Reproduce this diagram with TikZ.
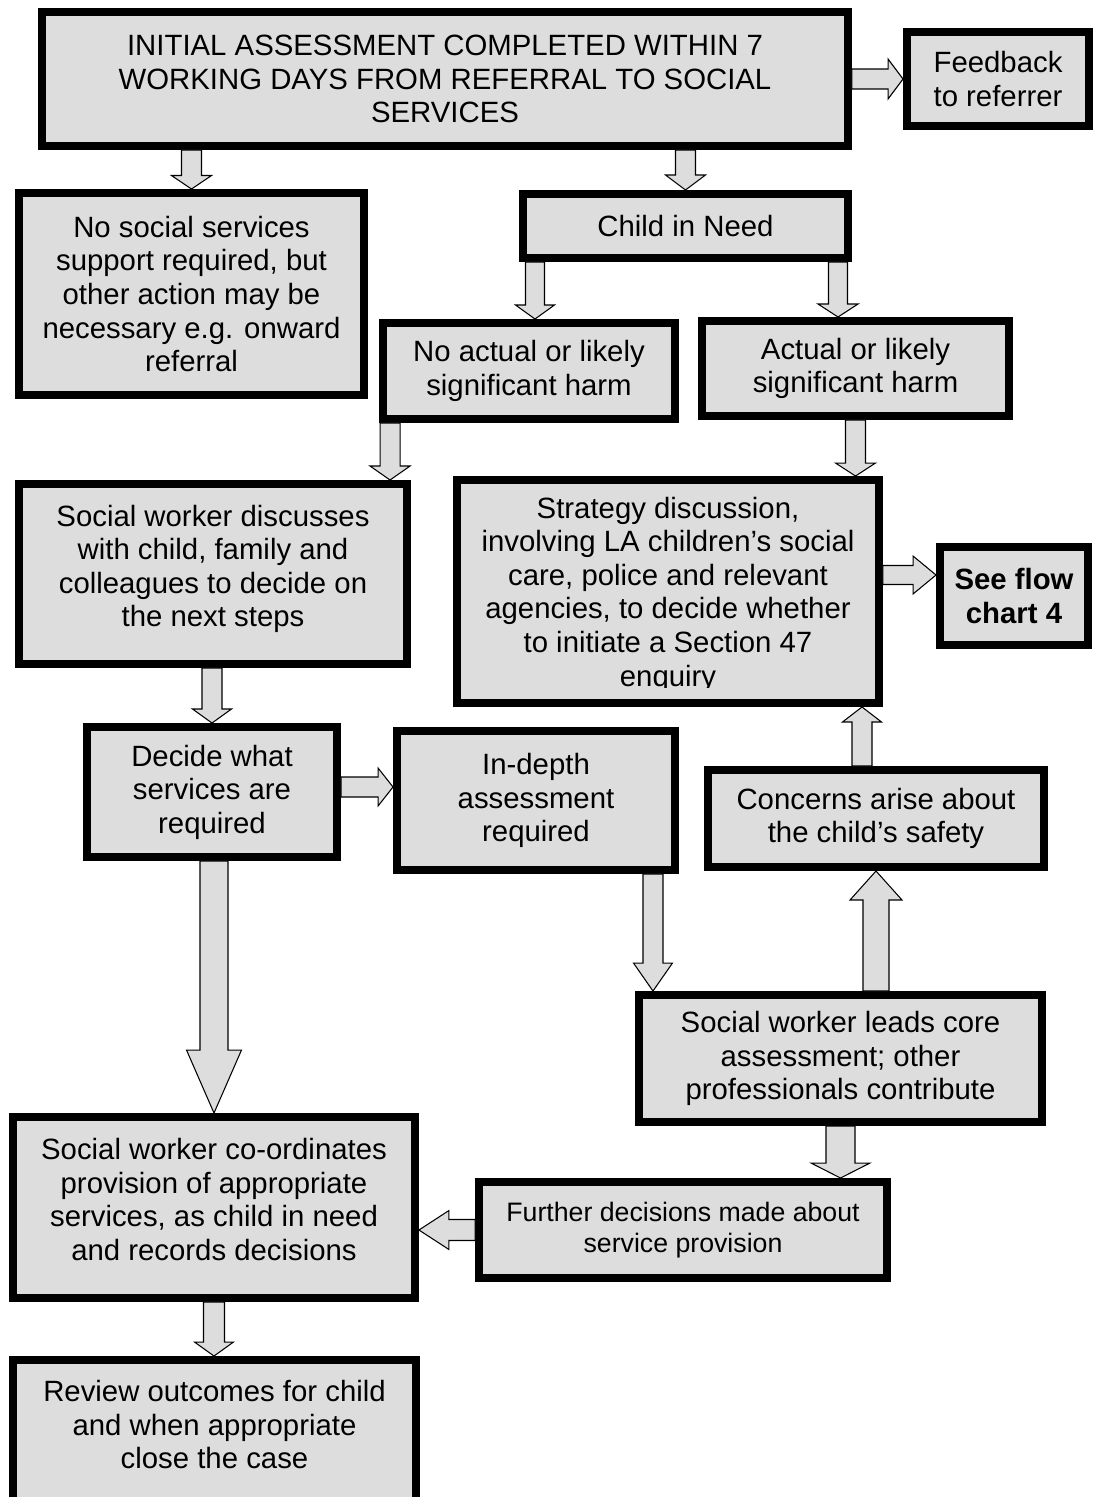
\documentclass[tikz,border=0pt]{standalone}
\usepackage{fontspec}
\setmainfont{Liberation Sans}
\usetikzlibrary{calc}
\definecolor{boxgray}{HTML}{DDDDDD}
\newcommand\blockarrow[5]{% start, tip, shaft half width, head half width, head length
	\coordinate (as) at (#1);
	\coordinate (at) at (#2);
	\coordinate (hb) at ($(at)!#5!(as)$);
	\draw[arrowbody] ($(as)!#3!90:(at)$) -- ($(hb)!#3!90:(at)$) -- ($(hb)!#4!90:(at)$) -- (at)
		-- ($(hb)!#4!-90:(at)$) -- ($(hb)!#3!-90:(at)$) -- ($(as)!#3!-90:(at)$) -- cycle;}

\begin{document}
\begin{tikzpicture}[x=0.02cm, y=-0.02cm,
	flowbox/.style={draw=black, line width=0.16cm, fill=boxgray, align=center, inner sep=0pt,
		font=\fontsize{16.7}{19.1}\selectfont},
	arrowbody/.style={draw=black, line width=0.6pt, fill=boxgray, line join=miter}]
		%%%%% START %%%%%
		\useasboundingbox (0, 0) rectangle (1093, 1497);

		\node[flowbox, minimum width=16.12cm, minimum height=2.68cm] (init) at (445, 79)
			{INITIAL ASSESSMENT COMPLETED WITHIN 7\\WORKING DAYS FROM REFERRAL TO SOCIAL\\SERVICES};
		\node[flowbox, minimum width=3.64cm, minimum height=1.88cm] (feed) at (998, 79)
			{Feedback\\to referrer};

		\node[flowbox, minimum width=6.90cm, minimum height=4.04cm] (nosup) at (191.5, 294)
			{No social services\\support required, but\\other action may be\\necessary e.g. onward\\referral};
		\node[flowbox, minimum width=6.50cm, minimum height=1.28cm] (cin) at (685.5, 226)
			{Child in Need};

		\node[flowbox, minimum width=5.84cm, minimum height=1.92cm] (noharm) at (529, 371)
			{No actual or likely\\significant harm};
		\node[flowbox, minimum width=6.14cm, minimum height=1.90cm] (harm) at (855.5, 368.5)
			{Actual or likely\\significant harm};

		\node[flowbox, minimum width=7.76cm, minimum height=3.60cm, text depth=0.32cm] (discuss) at (213, 574)
			{Social worker discusses\\with child, family and\\colleagues to decide on\\the next steps};
		\node[flowbox, minimum width=8.44cm, minimum height=4.46cm, text depth=-0.22cm] (strat) at (668, 591.5)
			{Strategy discussion,\\involving LA children’s social\\care, police and relevant\\agencies, to decide whether\\to initiate a Section 47\\enquiry};
		% the last line runs into the frame
		\fill[boxgray] ([shift={(0.16cm,0.16cm)}]strat.south west) rectangle ([shift={(-0.16cm,0.38cm)}]strat.south east);
		\node[flowbox, minimum width=2.96cm, minimum height=1.96cm,
			font=\fontsize{16.7}{19.1}\selectfont\bfseries] (flow) at (1014, 596)
			{See flow\\chart 4};

		\node[flowbox, minimum width=5.00cm, minimum height=2.60cm] (decide) at (212, 792)
			{Decide what\\services are\\required};
		\node[flowbox, minimum width=5.56cm, minimum height=2.78cm] (indepth) at (536, 800.5)
			{In-depth\\assessment\\required};
		\node[flowbox, minimum width=6.72cm, minimum height=1.94cm] (concern) at (876, 818.5)
			{Concerns arise about\\the child’s safety};

		\node[flowbox, minimum width=8.06cm, minimum height=2.54cm] (leads) at (840.5, 1058.5)
			{Social worker leads core\\assessment; other\\professionals contribute};
		\node[flowbox, minimum width=8.16cm, minimum height=1.92cm,
			font=\fontsize{15.2}{17.2}\selectfont] (further) at (683, 1230)
			{Further decisions made about\\service provision};
		\node[flowbox, minimum width=8.04cm, minimum height=3.62cm, text depth=0.32cm] (coord) at (214, 1207.5)
			{Social worker co-ordinates\\provision of appropriate\\services, as child in need\\and records decisions};
		\node[flowbox, minimum width=8.06cm, minimum height=3.12cm, text depth=0.54cm] (review) at (214.5, 1438)
			{Review outcomes for child\\and when appropriate\\close the case};

		% arrows
		\blockarrow{init.south -| nosup.north}{nosup.north}{0.2cm}{0.4cm}{0.27cm}
		\blockarrow{init.south -| cin.north}{cin.north}{0.2cm}{0.4cm}{0.3cm}
		\blockarrow{init.east |- feed.west}{feed.west}{0.2cm}{0.4cm}{0.3cm}
		\blockarrow{[xshift=0.12cm]noharm.north |- cin.south}{[xshift=0.12cm]noharm.north}{0.19cm}{0.39cm}{0.28cm}
		\blockarrow{[xshift=-0.35cm]harm.north |- cin.south}{[xshift=-0.35cm]harm.north}{0.19cm}{0.4cm}{0.26cm}
		\blockarrow{[xshift=0.22cm]noharm.south west}{[xshift=0.22cm]noharm.south west |- discuss.north}{0.2cm}{0.4cm}{0.28cm}
		\blockarrow{harm.south}{harm.south |- strat.north}{0.2cm}{0.4cm}{0.26cm}
		\blockarrow{[yshift=0.42cm]flow.west -| strat.east}{[yshift=0.42cm]flow.west}{0.19cm}{0.38cm}{0.46cm}
		\blockarrow{discuss.south -| decide.north}{decide.north}{0.2cm}{0.39cm}{0.28cm}
		\blockarrow{[yshift=0.1cm]decide.east}{[yshift=0.1cm]decide.east -| indepth.west}{0.2cm}{0.38cm}{0.3cm}
		\blockarrow{[xshift=-0.28cm]concern.north}{[xshift=-0.28cm]concern.north |- strat.south}{0.2cm}{0.39cm}{0.3cm}
		\blockarrow{decide.south -| coord.north}{coord.north}{0.28cm}{0.55cm}{1.26cm}
		\blockarrow{[xshift=-0.52cm]indepth.south east}{[xshift=-0.52cm]indepth.south east |- leads.north}{0.2cm}{0.39cm}{0.56cm}
		\blockarrow{leads.north -| concern.south}{concern.south}{0.26cm}{0.52cm}{0.58cm}
		\blockarrow{leads.south}{leads.south |- further.north}{0.29cm}{0.59cm}{0.3cm}
		\blockarrow{further.west}{further.west -| coord.east}{0.21cm}{0.39cm}{0.6cm}
		\blockarrow{coord.south}{coord.south |- review.north}{0.21cm}{0.39cm}{0.28cm}

		%%%%% END %%%%%
\end{tikzpicture}
\end{document}
